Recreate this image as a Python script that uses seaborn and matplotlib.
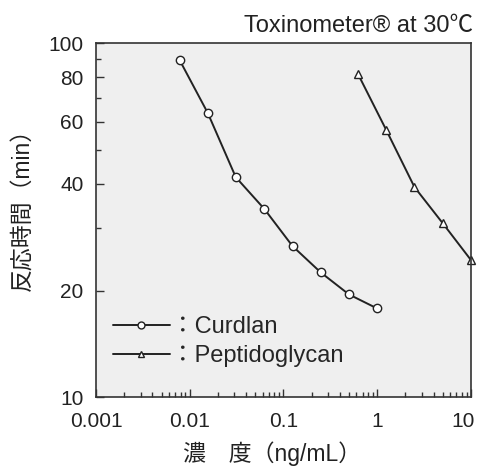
import matplotlib
matplotlib.use("Agg")
import matplotlib.pyplot as plt
import matplotlib.ticker as mticker
import matplotlib.transforms as mtransforms
import numpy as np
import pandas as pd
import seaborn as sns

# data (doubling dilutions)
curdlan_conc = [0.0078, 0.0156, 0.031, 0.0625, 0.125, 0.25, 0.5, 1.0]
curdlan_time = [89.5, 63.4, 41.8, 34.0, 26.7, 22.5, 19.5, 17.8]
pg_conc = [0.625, 1.25, 2.5, 5.0, 10.0]
pg_time = [81.7, 56.8, 39.2, 31.0, 24.4]
samples = ["Curdlan", "Peptidoglycan"]
x_ticks = [0.001, 0.01, 0.1, 1, 10]
x_labels = ["0.001", "0.01", "0.1", "1", "10"]
y_ticks = [10, 20, 40, 60, 80, 100]
y_minor = [30, 50, 70, 90]

df = pd.concat([
    pd.DataFrame({"conc": curdlan_conc, "time": curdlan_time, "sample": samples[0]}),
    pd.DataFrame({"conc": pg_conc, "time": pg_time, "sample": samples[1]}),
])

sns.set_style("ticks")
plt.rcParams["font.family"] = ["Liberation Sans", "Noto Sans CJK JP", "DejaVu Sans"]

ink = "#222222"
fig = plt.figure(figsize=(4.8, 4.7), dpi=100)
ax = fig.add_axes([0.2, 0.155, 0.781, 0.7535])
ax.set_facecolor("#efefef")

sns.lineplot(data=df, x="conc", y="time", style="sample",
             markers={"Curdlan": "o", "Peptidoglycan": "^"}, dashes=False,
             color=ink, lw=1.4, ms=6, mfc="white", mec=ink, mew=1.0,
             ax=ax, legend=False, clip_on=False)

ax.set_xscale("log")
ax.set_yscale("log")
ax.set_xlim(0.001, 10)
ax.set_ylim(10, 100)

ax.xaxis.set_major_locator(mticker.FixedLocator(x_ticks))
ax.xaxis.set_major_formatter(mticker.FixedFormatter(x_labels))
ax.xaxis.set_minor_locator(mticker.LogLocator(base=10, subs=np.arange(2, 10)))
ax.xaxis.set_minor_formatter(mticker.NullFormatter())
ax.yaxis.set_major_locator(mticker.FixedLocator(y_ticks))
ax.yaxis.set_major_formatter(mticker.FixedFormatter([str(v) for v in y_ticks]))
ax.yaxis.set_minor_locator(mticker.FixedLocator(y_minor))
ax.yaxis.set_minor_formatter(mticker.NullFormatter())

ax.tick_params(which="both", direction="in", colors="#333333", labelcolor=ink,
               labelsize=15, width=1.0)
ax.tick_params(which="major", length=6)
ax.tick_params(which="minor", length=3.5)
ax.tick_params(axis="x", pad=11)
ax.tick_params(axis="y", pad=9)
for s in ax.spines.values():
    s.set_color("#333333")
    s.set_linewidth(1.2)

# last x label sits slightly inside the figure edge
fig.canvas.draw()
last = ax.get_xticklabels()[-1]
last.set_ha("right")
last.set_transform(last.get_transform() + mtransforms.ScaledTranslation(3 / 72, 0, fig.dpi_scale_trans))

ax.set_xlabel("濃　度（ng/mL）", fontsize=16.5, color=ink)
ax.xaxis.set_label_coords(0.47, -0.125)
ax.set_ylabel("反応時間（min）", fontsize=16.5, color=ink)
ax.yaxis.set_label_coords(-0.163, 0.545)
fig.text(0.985, 0.945, "Toxinometer® at 30℃", ha="right", va="center",
         fontsize=17, color=ink)

handles = [
    plt.Line2D([], [], color=ink, lw=1.4, marker="o", ms=5, mfc="white", mec=ink),
    plt.Line2D([], [], color=ink, lw=1.4, marker="^", ms=5, mfc="white", mec=ink),
]
ax.legend(handles, ["：" + s for s in samples], loc="lower left", bbox_to_anchor=(0.045, 0.085),
          frameon=False, fontsize=17, handlelength=2.4, handletextpad=0.05,
          labelspacing=0.3, borderaxespad=0, borderpad=0)

fig.savefig("out.png", dpi=100)
